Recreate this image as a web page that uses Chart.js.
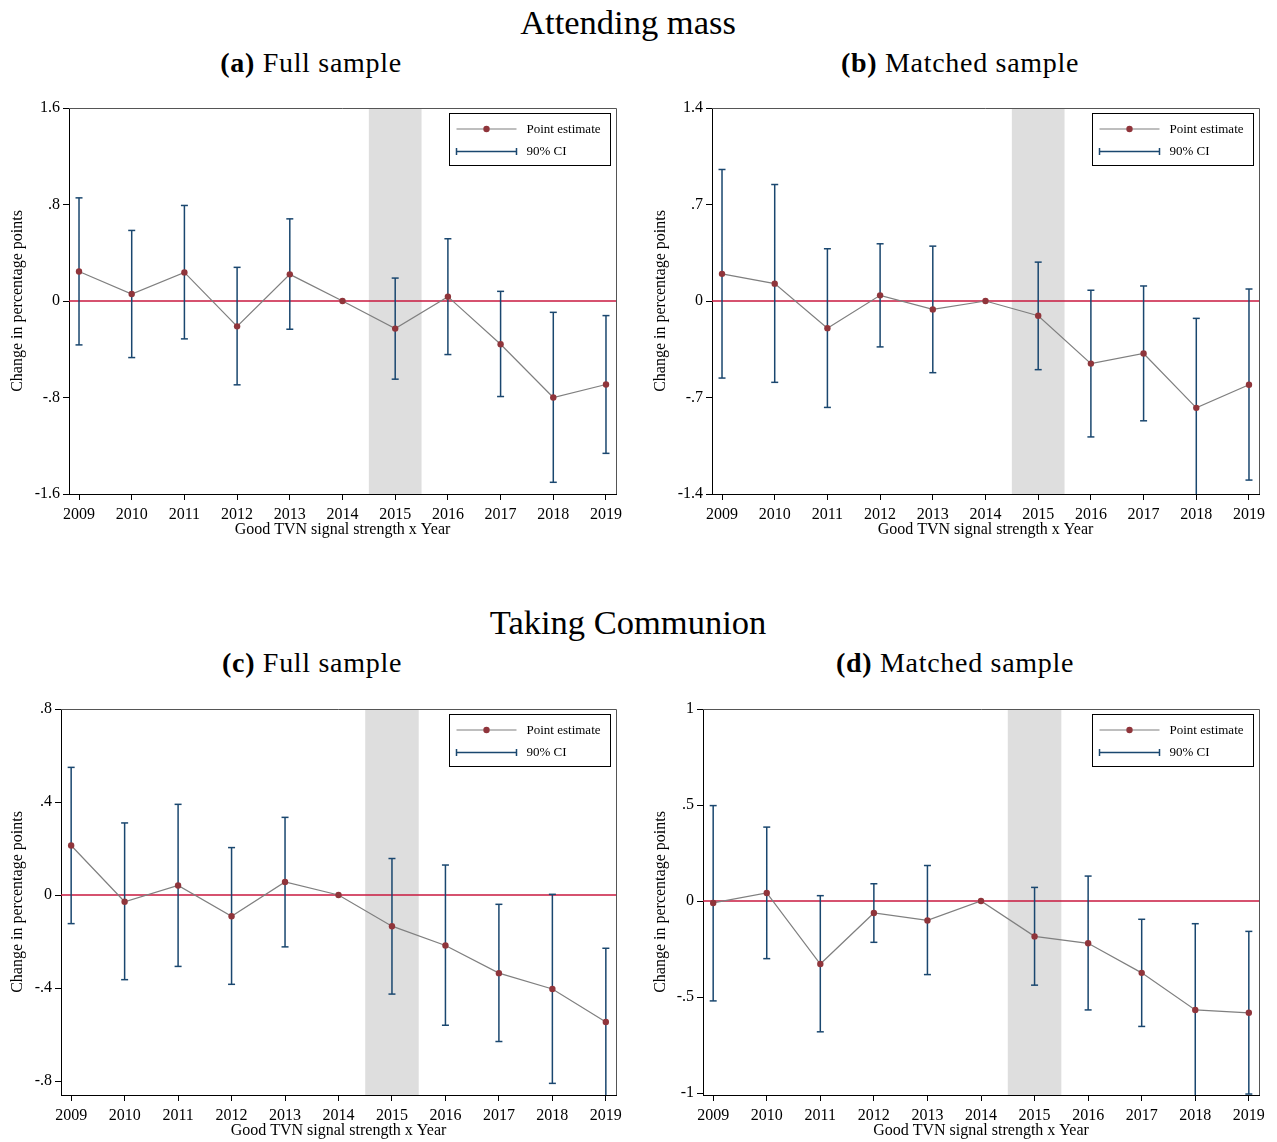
<!DOCTYPE html>
<html>
<head>
<meta charset="utf-8">
<script src="https://cdn.jsdelivr.net/npm/chart.js@4.4.1/dist/chart.umd.min.js"></script>
<style>
  html, body { margin: 0; padding: 0; background: #fff; overflow: hidden; }
  #page { position: relative; width: 1277px; height: 1142px; font-family: "Liberation Serif", "Times New Roman", serif; color: #000; }
  .title { position: absolute; font-size: 34.5px; line-height: 34px; transform: translateX(-50%); white-space: nowrap; }
  .sub { position: absolute; font-size: 28px; line-height: 28px; letter-spacing: 0.7px; transform: translateX(-50%); white-space: nowrap; }
  .sub b { font-weight: bold; }
  canvas { position: absolute; }
</style>
</head>
<body>
<div id="page">
  <div class="title" style="left:628px;top:5px">Attending mass</div>
  <div class="sub" style="left:311px;top:49px"><b>(a)</b> Full sample</div>
  <div class="sub" style="left:960px;top:49px"><b>(b)</b> Matched sample</div>
  <div class="title" style="left:628px;top:605px">Taking Communion</div>
  <div class="sub" style="left:312px;top:649px"><b>(c)</b> Full sample</div>
  <div class="sub" style="left:955px;top:649px"><b>(d)</b> Matched sample</div>

  <canvas id="chartA" width="640" height="455" style="left:0;top:95px"></canvas>
  <canvas id="chartB" width="637" height="455" style="left:640px;top:95px"></canvas>
  <canvas id="chartC" width="640" height="447" style="left:0;top:695px"></canvas>
  <canvas id="chartD" width="637" height="447" style="left:640px;top:695px"></canvas>
</div>
<script>
// Event-study years (interaction: good TVN signal strength x year), 2014 is the reference year
const years = [2009, 2010, 2011, 2012, 2013, 2014, 2015, 2016, 2017, 2018, 2019];

// Shaded year
const shadeFrom = 2014.5;
const shadeTo = 2015.5;

// Attending mass, full sample
const massFullEst = [0.245, 0.058, 0.237, -0.210, 0.221, 0, -0.229, 0.036, -0.359, -0.800, -0.692];
const massFullLo  = [-0.364, -0.469, -0.314, -0.695, -0.234, null, -0.648, -0.444, -0.792, -1.503, -1.263];
const massFullHi  = [0.855, 0.585, 0.792, 0.279, 0.681, null, 0.190, 0.516, 0.080, -0.094, -0.121];
const massFullTicks = [-1.6, -0.8, 0, 0.8, 1.6];

// Attending mass, matched sample
const massMatchEst = [0.197, 0.126, -0.197, 0.041, -0.061, 0, -0.107, -0.454, -0.381, -0.775, -0.607];
const massMatchLo  = [-0.559, -0.590, -0.772, -0.333, -0.520, null, -0.498, -0.986, -0.869, -1.450, -1.299];
const massMatchHi  = [0.954, 0.845, 0.379, 0.415, 0.398, null, 0.282, 0.078, 0.109, -0.126, 0.087];
const massMatchTicks = [-1.4, -0.7, 0, 0.7, 1.4];

// Taking communion, full sample
const commFullEst = [0.213, -0.029, 0.041, -0.091, 0.056, 0, -0.134, -0.217, -0.336, -0.404, -0.546];
const commFullLo  = [-0.123, -0.364, -0.307, -0.384, -0.223, null, -0.426, -0.560, -0.630, -0.810, -0.900];
const commFullHi  = [0.549, 0.310, 0.390, 0.204, 0.334, null, 0.157, 0.129, -0.040, 0.003, -0.229];
const commFullTicks = [-0.8, -0.4, 0, 0.4, 0.8];

// Taking communion, matched sample
const commMatchEst = [-0.010, 0.042, -0.328, -0.062, -0.101, 0, -0.184, -0.220, -0.374, -0.567, -0.582];
const commMatchLo  = [-0.520, -0.300, -0.681, -0.215, -0.383, null, -0.438, -0.567, -0.653, -1.030, -1.005];
const commMatchHi  = [0.497, 0.385, 0.028, 0.090, 0.185, null, 0.071, 0.130, -0.095, -0.118, -0.158];
const commMatchTicks = [-1, -0.5, 0, 0.5, 1];

const NAVY = '#1a476f';
const MAROON = '#90353b';
const LINE_GRAY = '#7f7f7f';
const ZERO_RED = '#c8193f';
const SHADE = '#dedede';
const FONT = '"Liberation Serif", "Times New Roman", serif';

Chart.defaults.font.family = FONT;
Chart.defaults.color = '#000';

// Stata-style tick labels: ".8" instead of "0.8"
function fmt(v) {
  const s = String(Math.round(v * 100) / 100);
  return s.replace(/^(-?)0\./, '$1.');
}

// Shaded band and zero reference line under the series
const backdrop = {
  id: 'backdrop',
  beforeDatasetsDraw(chart) {
    const { ctx, chartArea: a, scales: { x, y } } = chart;
    ctx.save();
    const x0 = x.getPixelForValue(shadeFrom), x1 = x.getPixelForValue(shadeTo);
    ctx.fillStyle = SHADE;
    ctx.fillRect(x0, a.top, x1 - x0, a.bottom - a.top);
    const yz = y.getPixelForValue(0);
    ctx.strokeStyle = ZERO_RED;
    ctx.lineWidth = 1.5;
    ctx.beginPath();
    ctx.moveTo(a.left, yz);
    ctx.lineTo(a.right, yz);
    ctx.stroke();
    ctx.restore();
  }
};

// Plot-region outline and boxed legend in the upper right corner
const frameAndLegend = {
  id: 'frameAndLegend',
  afterDraw(chart) {
    const { ctx, chartArea: a } = chart;
    ctx.save();
    ctx.strokeStyle = '#555';
    ctx.lineWidth = 1;
    ctx.beginPath();
    ctx.moveTo(a.left, a.top + 0.5);
    ctx.lineTo(a.right + 0.5, a.top + 0.5);
    ctx.lineTo(a.right + 0.5, a.bottom);
    ctx.stroke();

    const w = 161, h = 52;
    const bx = Math.round(a.right - 6 - w) + 0.5;
    const by = Math.round(a.top + 5) + 0.5;
    ctx.fillStyle = '#fff';
    ctx.fillRect(bx, by, w, h);
    ctx.strokeStyle = '#000';
    ctx.strokeRect(bx, by, w, h);

    const r1 = by + 15.5, r2 = by + 38;
    ctx.strokeStyle = LINE_GRAY;
    ctx.lineWidth = 1.2;
    ctx.beginPath();
    ctx.moveTo(bx + 7, r1);
    ctx.lineTo(bx + 67, r1);
    ctx.stroke();
    ctx.fillStyle = MAROON;
    ctx.beginPath();
    ctx.arc(bx + 37, r1, 3.2, 0, Math.PI * 2);
    ctx.fill();

    ctx.strokeStyle = NAVY;
    ctx.lineWidth = 1.5;
    ctx.beginPath();
    ctx.moveTo(bx + 7, r2);
    ctx.lineTo(bx + 67, r2);
    ctx.moveTo(bx + 7, r2 - 3.5);
    ctx.lineTo(bx + 7, r2 + 3.5);
    ctx.moveTo(bx + 67, r2 - 3.5);
    ctx.lineTo(bx + 67, r2 + 3.5);
    ctx.stroke();

    ctx.fillStyle = '#000';
    ctx.font = '13px ' + FONT;
    ctx.textBaseline = 'middle';
    ctx.textAlign = 'left';
    ctx.fillText('Point estimate', bx + 77, r1 + 0.5);
    ctx.fillText('90% CI', bx + 77, r2 + 0.5);
    ctx.restore();
  }
};

function makePanel(id, est, lo, hi, yTicks, yMin, yMax, g) {
  const estPoints = years.map((yr, i) => ({ x: yr, y: est[i] }));
  const ciPoints = [];
  years.forEach((yr, i) => {
    if (lo[i] === null) return;
    ciPoints.push({ x: yr, y: lo[i] }, { x: yr, y: hi[i] }, { x: yr, y: null });
  });

  new Chart(document.getElementById(id), {
    type: 'line',
    data: {
      datasets: [
        {
          label: 'Point estimate',
          data: estPoints,
          borderColor: LINE_GRAY,
          borderWidth: 1.2,
          pointRadius: 3.2,
          pointBackgroundColor: MAROON,
          pointBorderColor: MAROON,
          pointBorderWidth: 0,
          tension: 0
        },
        {
          label: '90% CI',
          data: ciPoints,
          borderColor: NAVY,
          borderWidth: 1.5,
          pointStyle: 'line',
          pointRadius: 3.5,
          pointBorderColor: NAVY,
          pointBorderWidth: 1.5,
          spanGaps: false,
          tension: 0
        }
      ]
    },
    options: {
      responsive: false,
      animation: false,
      events: [],
      layout: { padding: { top: g.padTop, right: g.padRight, bottom: 0, left: 0 } },
      plugins: { legend: { display: false }, tooltip: { enabled: false } },
      scales: {
        x: {
          type: 'linear',
          min: 2008.81,
          max: 2019.19,
          afterBuildTicks: (s) => { s.ticks = years.map(v => ({ value: v })); },
          afterFit: (s) => { s.height = g.xHeight; },
          grid: { drawOnChartArea: false, drawTicks: true, tickLength: 6, color: '#000', tickWidth: 1 },
          border: { display: true, color: '#000', width: 1 },
          ticks: { font: { size: 16 }, padding: 5, maxRotation: 0, autoSkip: false, callback: (v) => String(v) },
          title: { display: true, text: 'Good TVN signal strength x Year', font: { size: 16 }, padding: { top: 0, bottom: g.xTitlePad } }
        },
        y: {
          type: 'linear',
          min: yMin,
          max: yMax,
          afterBuildTicks: (s) => { s.ticks = yTicks.map(v => ({ value: v })); },
          afterFit: (s) => { s.width = g.yWidth; },
          grid: { drawOnChartArea: false, drawTicks: true, tickLength: 6, color: '#000', tickWidth: 1 },
          border: { display: true, color: '#000', width: 1 },
          ticks: { font: { size: 16 }, padding: 3, callback: (v) => fmt(v) },
          title: { display: true, text: 'Change in percentage points', font: { size: 16 }, padding: { top: g.yTitlePad, bottom: 0 } }
        }
      }
    },
    plugins: [backdrop, frameAndLegend]
  });
}

makePanel('chartA', massFullEst, massFullLo, massFullHi, massFullTicks, -1.6, 1.6,
  { padTop: 13, padRight: 24, yWidth: 69, xHeight: 56, xTitlePad: 11, yTitlePad: 8 });
makePanel('chartB', massMatchEst, massMatchLo, massMatchHi, massMatchTicks, -1.4, 1.4,
  { padTop: 13, padRight: 18, yWidth: 72, xHeight: 56, xTitlePad: 11, yTitlePad: 11 });
makePanel('chartC', commFullEst, commFullLo, commFullHi, commFullTicks, -0.86, 0.8,
  { padTop: 14, padRight: 24, yWidth: 61, xHeight: 47, xTitlePad: 2, yTitlePad: 8 });
makePanel('chartD', commMatchEst, commMatchLo, commMatchHi, commMatchTicks, -1.01, 1,
  { padTop: 14, padRight: 18, yWidth: 63, xHeight: 47, xTitlePad: 2, yTitlePad: 11 });
</script>
</body>
</html>
